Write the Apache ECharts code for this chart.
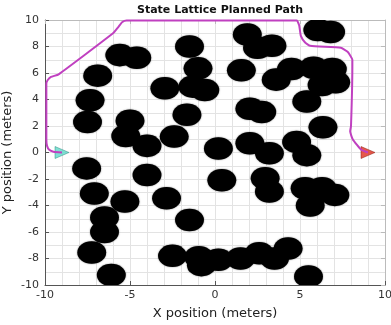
<!DOCTYPE html>
<html><head><meta charset="utf-8">
<script src="https://cdn.jsdelivr.net/npm/echarts@6/dist/echarts.min.js"></script>
<style>html,body{margin:0;padding:0;background:#fff}#c{width:391px;height:325px}</style>
</head><body><div id="c"></div>
<script>
// Obstacle centres (meters)
const obsX = [-5.6,-4.6,-6.9,-7.35,-7.5,-5.0,-5.25,-4.0,-2.4,-1.65,-2.95,-1.5,-1.0,-1.3,-0.6,
  1.55,1.9,2.5,3.35,6.05,6.8,3.6,4.5,5.8,6.9,7.1,6.3,5.4,6.35,2.05,2.75,4.8,5.4,3.2,2.05,0.2,
  0.4,2.95,3.2,5.3,6.3,7.05,5.6,-0.95,-0.8,0.2,1.5,2.6,3.5,4.3,5.5,
  -7.55,-7.1,-5.3,-4.0,-2.85,-6.5,-6.5,-7.25,-6.1,-1.5,-2.5];
const obsY = [7.35,7.15,5.8,3.95,2.3,2.4,1.25,0.5,1.2,2.85,4.85,8.0,6.35,4.97,4.72,
  6.2,8.9,7.9,8.05,9.25,9.1,5.5,6.3,6.4,6.3,5.3,5.1,3.85,1.9,3.3,3.05,0.8,-0.2,-0.05,0.7,0.3,
  -2.1,-1.95,-2.95,-2.7,-2.7,-3.2,-4.0,-7.9,-8.5,-8.1,-8.0,-7.6,-8.0,-7.25,-9.35,
  -1.2,-3.1,-3.7,-1.7,-3.45,-4.9,-6.0,-7.55,-9.25,-5.1,-7.8];
const obsRadius = 0.85;
// Planned path
const pathX = [-9.0,-9.5,-9.75,-9.88,-9.92,-9.92,-9.85,-9.65,-9.2,-6.0,-5.7,-5.45,-5.2,4.8,4.95,5.05,5.3,5.6,7.4,7.8,8.08,8.08,8.0,7.95,8.1,8.6,9.0];
const pathY = [0.0,0.05,0.2,0.5,1.0,5.2,5.45,5.7,5.9,9.0,9.45,9.85,9.97,9.97,9.6,8.8,8.3,8.05,7.9,7.6,7.0,6.5,2.0,1.6,1.0,0.2,0.0];
const startPt = [-9, 0];
const goalPt = [9, 0];
const xTicks = [-10, -5, 0, 5, 10];
const yTicks = [-10, -8, -6, -4, -2, 0, 2, 4, 6, 8, 10];

const chart = echarts.init(document.getElementById('c'));
const obsData = obsX.map((x, i) => [x, obsY[i], obsRadius]);
const pathData = pathX.map((x, i) => [x, pathY[i]]);
const FONT = 'DejaVu Sans';
const axisCol = '#555';
const gridCol = '#e3e3e3';
chart.setOption({
  animation: false,
  backgroundColor: '#fff',
  title: {text: 'State Lattice Planned Path', left: 215, top: 0, textAlign: 'center',
    textStyle: {fontFamily: FONT, fontSize: 11, fontWeight: 'bold', color: '#111'}},
  grid: {left: 45, right: 6, top: 20, bottom: 40, containLabel: false, outerBoundsMode: 'none'},
  xAxis: [{
    type: 'value', min: xTicks[0], max: xTicks[xTicks.length-1], interval: 5,
    name: 'X position (meters)', nameLocation: 'middle', nameGap: 22, nameMoveOverlap: false,
    nameTextStyle: {fontFamily: FONT, fontSize: 13, color: '#222'},
    axisLine: {onZero: false, lineStyle: {color: axisCol}},
    axisTick: {inside: true, length: 4, lineStyle: {color: axisCol}},
    axisLabel: {fontFamily: FONT, fontSize: 11, color: '#333', margin: 5},
    splitLine: {show: true, lineStyle: {color: gridCol, width: 1}},
    minorTick: {show: false, splitNumber: 5},
    minorSplitLine: {show: true, lineStyle: {color: gridCol, width: 1}}
  }, {
    type: 'value', position: 'top', min: -10, max: 10, interval: 5,
    axisLine: {onZero: false, lineStyle: {color: '#bbb'}},
    axisTick: {inside: true, length: 4, lineStyle: {color: '#bbb'}},
    axisLabel: {show: false}, splitLine: {show: false}
  }],
  yAxis: [{
    type: 'value', min: yTicks[0], max: yTicks[yTicks.length-1], interval: 2,
    name: 'Y position (meters)', nameLocation: 'middle', nameGap: 31, nameMoveOverlap: false,
    nameTextStyle: {fontFamily: FONT, fontSize: 13, color: '#222'},
    axisLine: {onZero: false, lineStyle: {color: axisCol}},
    axisTick: {inside: true, length: 4, lineStyle: {color: axisCol}},
    axisLabel: {fontFamily: FONT, fontSize: 11, color: '#333', margin: 6},
    splitLine: {show: true, lineStyle: {color: gridCol, width: 1}},
    minorTick: {show: false, splitNumber: 2},
    minorSplitLine: {show: true, lineStyle: {color: gridCol, width: 1}}
  }, {
    type: 'value', position: 'right', min: -10, max: 10, interval: 2,
    axisLine: {onZero: false, lineStyle: {color: '#bbb'}},
    axisTick: {inside: true, length: 4, lineStyle: {color: '#bbb'}},
    axisLabel: {show: false}, splitLine: {show: false}
  }],
  series: [{
    type: 'custom', clip: true, data: obsData,
    renderItem: function (params, api) {
      const c = api.coord([api.value(0), api.value(1)]);
      const s = api.size([api.value(2), api.value(2)]);
      return {type: 'circle', x: c[0], y: c[1], scaleY: s[1] / s[0],
        shape: {cx: 0, cy: 0, r: s[0]},
        style: {fill: '#000', shadowBlur: 1.5, shadowColor: 'rgba(0,0,0,0.6)'}};
    }
  }, {
    type: 'line', data: pathData, showSymbol: false, smooth: 0.15, clip: false,
    lineStyle: {color: '#c040c0', width: 2}
  }, {
    type: 'scatter', data: [startPt], symbol: 'triangle', symbolRotate: -90, symbolSize: [12, 14],
    itemStyle: {color: '#5fd8c8', borderColor: '#2a8a80', borderWidth: 0.6}
  }, {
    type: 'scatter', data: [goalPt], symbol: 'triangle', symbolRotate: -90, symbolSize: [12, 14],
    itemStyle: {color: '#e0301e', borderColor: '#8a1a10', borderWidth: 0.6}
  }]
});
</script></body></html>
